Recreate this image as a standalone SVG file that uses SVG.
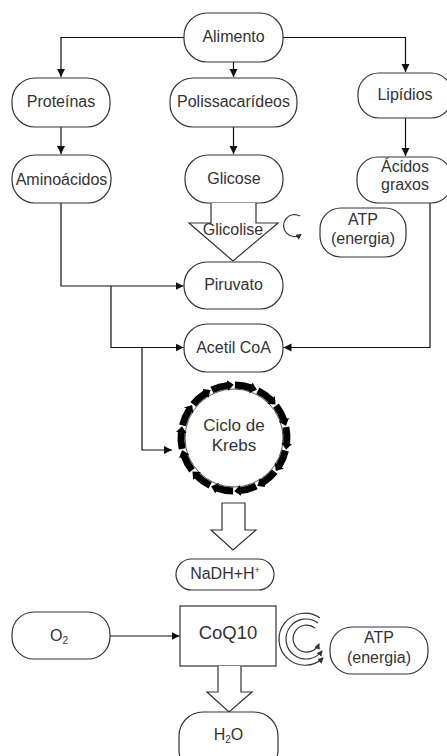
<svg xmlns="http://www.w3.org/2000/svg" xmlns:xlink="http://www.w3.org/1999/xlink" width="447" height="756" viewBox="0 0 447 756">
<style>
.box{fill:#fff;stroke:#333;stroke-width:1.2}
.t{font-family:"Liberation Sans",Arial,sans-serif;font-size:16px;fill:#333;text-anchor:middle}
.c{fill:none;stroke:#111;stroke-width:1.2}
.fat{fill:#fff;stroke:#333;stroke-width:1.2}
.arc{fill:none;stroke:#333;stroke-width:1.2}
.seg{fill:none;stroke:#000;stroke-width:7}
</style>
<defs>
<marker id="ah" markerUnits="userSpaceOnUse" markerWidth="10" markerHeight="10" refX="8" refY="4" orient="auto">
<path d="M0,0 L8,4 L0,8 z" fill="#111"/>
</marker>
<marker id="sh" markerUnits="userSpaceOnUse" markerWidth="8" markerHeight="8" refX="5" refY="3" orient="auto">
<path d="M0,0 L6,3 L0,6 z" fill="#333"/>
</marker>
<marker id="kh" markerUnits="userSpaceOnUse" markerWidth="8" markerHeight="12" refX="0.5" refY="6" orient="auto">
<path d="M0,0.5 L6.5,6 L0,11.5 z" fill="#000"/>
</marker>
<path id="kseg" class="seg" d="M234.92,385.01 A53,53 0 0 1 251.26,387.89" marker-end="url(#kh)"/>
</defs>

<g id="connectors">
<path class="c" d="M184,37.5 H61 V77" marker-end="url(#ah)"/>
<path class="c" d="M233.5,62 V77" marker-end="url(#ah)"/>
<path class="c" d="M283,37.5 H405.5 V72" marker-end="url(#ah)"/>
<path class="c" d="M61,127 V154" marker-end="url(#ah)"/>
<path class="c" d="M233.5,127 V154" marker-end="url(#ah)"/>
<path class="c" d="M405.5,118 V156" marker-end="url(#ah)"/>
<path class="c" d="M61,203 V286 H183.5" marker-end="url(#ah)"/>
<path class="c" d="M111,286 V347.5 H183.5" marker-end="url(#ah)"/>
<path class="c" d="M142,347.5 V450 H172" marker-end="url(#ah)"/>
<path class="c" d="M430,200 V347.5 H283.5" marker-end="url(#ah)"/>
<path class="c" d="M110,636 H179.5" marker-end="url(#ah)"/>
</g>

<g id="alimento"><rect class="box" x="184" y="13" width="99" height="49" rx="23"/><text class="t" x="233.5" y="42">Alimento</text></g>
<g id="proteinas"><rect class="box" x="12" y="78" width="98" height="49" rx="23"/><text class="t" x="61" y="107">Proteínas</text></g>
<g id="polissacarideos"><rect class="box" x="170" y="78" width="127" height="49" rx="23"/><text class="t" x="233.5" y="107">Polissacarídeos</text></g>
<g id="lipidios"><rect class="box" x="358" y="73" width="94" height="45" rx="21"/><text class="t" x="405" y="100">Lipídios</text></g>
<g id="aminoacidos"><rect class="box" x="12" y="155" width="99" height="48" rx="23"/><text class="t" x="61.5" y="185">Aminoácidos</text></g>
<g id="glicose"><rect class="box" x="185" y="155" width="98" height="48" rx="23"/><text class="t" x="234" y="184">Glicose</text></g>
<g id="acidos-graxos"><rect class="box" x="357" y="157" width="95" height="46" rx="21"/><text class="t" x="405" y="172">Ácidos</text><text class="t" x="405" y="190">graxos</text></g>

<g id="glicolise">
<path class="fat" d="M211,203 V223 H189 L233,261 L278,223 H256 V203"/>
<text class="t" x="233" y="235">Glicolise</text>
</g>
<g id="ciclo-glicolise"><path class="arc" d="M300,216 A11,11 0 1 0 301,234.5" marker-end="url(#sh)"/></g>
<g id="atp1"><rect class="box" x="320" y="208" width="86" height="49" rx="21"/><text class="t" x="363" y="225">ATP</text><text class="t" x="363" y="244">(energia)</text></g>

<g id="piruvato"><rect class="box" x="184" y="262" width="99" height="47" rx="23"/><text class="t" x="233.5" y="290">Piruvato</text></g>
<g id="acetil-coa"><rect class="box" x="184" y="324" width="99" height="48" rx="23"/><text class="t" x="233.5" y="353">Acetil CoA</text></g>

<g id="krebs">
<circle cx="234" cy="438" r="49" fill="#fff" stroke="#555" stroke-width="1"/>
<use xlink:href="#kseg"/>
<use xlink:href="#kseg" transform="rotate(25.714 234 438)"/>
<use xlink:href="#kseg" transform="rotate(51.429 234 438)"/>
<use xlink:href="#kseg" transform="rotate(77.143 234 438)"/>
<use xlink:href="#kseg" transform="rotate(102.857 234 438)"/>
<use xlink:href="#kseg" transform="rotate(128.571 234 438)"/>
<use xlink:href="#kseg" transform="rotate(154.286 234 438)"/>
<use xlink:href="#kseg" transform="rotate(180 234 438)"/>
<use xlink:href="#kseg" transform="rotate(205.714 234 438)"/>
<use xlink:href="#kseg" transform="rotate(231.429 234 438)"/>
<use xlink:href="#kseg" transform="rotate(257.143 234 438)"/>
<use xlink:href="#kseg" transform="rotate(282.857 234 438)"/>
<use xlink:href="#kseg" transform="rotate(308.571 234 438)"/>
<use xlink:href="#kseg" transform="rotate(334.286 234 438)"/>
<text class="t" x="234" y="431" style="font-size:17px">Ciclo de</text>
<text class="t" x="234" y="451" style="font-size:17px">Krebs</text>
</g>

<g id="seta-krebs"><path class="fat" d="M222,503 H245 V530 H256 L233,550 L211,530 H222 Z"/></g>

<g id="nadh"><rect class="box" x="176" y="559" width="98" height="31" rx="15.5"/><text class="t" x="225" y="579">NaDH+H<tspan dy="-6" style="font-size:9px">+</tspan></text></g>

<g id="o2"><rect class="box" x="12" y="612" width="98" height="47" rx="22"/><text class="t" x="59" y="641">O<tspan dy="3" style="font-size:10px">2</tspan></text></g>
<g id="coq10"><rect class="box" x="180" y="606" width="96" height="60" rx="0"/><text class="t" x="228" y="639" style="font-size:18.5px">CoQ10</text></g>

<g id="ciclos-coq10">
<path class="arc" d="M320,618 A26,26 0 1 0 323,658" marker-end="url(#sh)"/>
<path class="arc" d="M318,623 A20,20 0 1 0 322,651" marker-end="url(#sh)"/>
<path class="arc" d="M315,628 A13.5,13.5 0 1 0 319,644" marker-end="url(#sh)"/>
</g>
<g id="atp2"><rect class="box" x="330" y="627" width="98" height="47" rx="22"/><text class="t" x="379" y="643">ATP</text><text class="t" x="379" y="663">(energia)</text></g>

<g id="seta-coq10"><path class="fat" d="M218,666 V692 H207 L229,712 L252,692 H241 V666"/></g>

<g id="h2o"><rect class="box" x="179" y="712" width="99" height="62" rx="24"/><text class="t" x="228.5" y="740">H<tspan dy="3" style="font-size:10px">2</tspan><tspan dy="-3">O</tspan></text></g>
</svg>
